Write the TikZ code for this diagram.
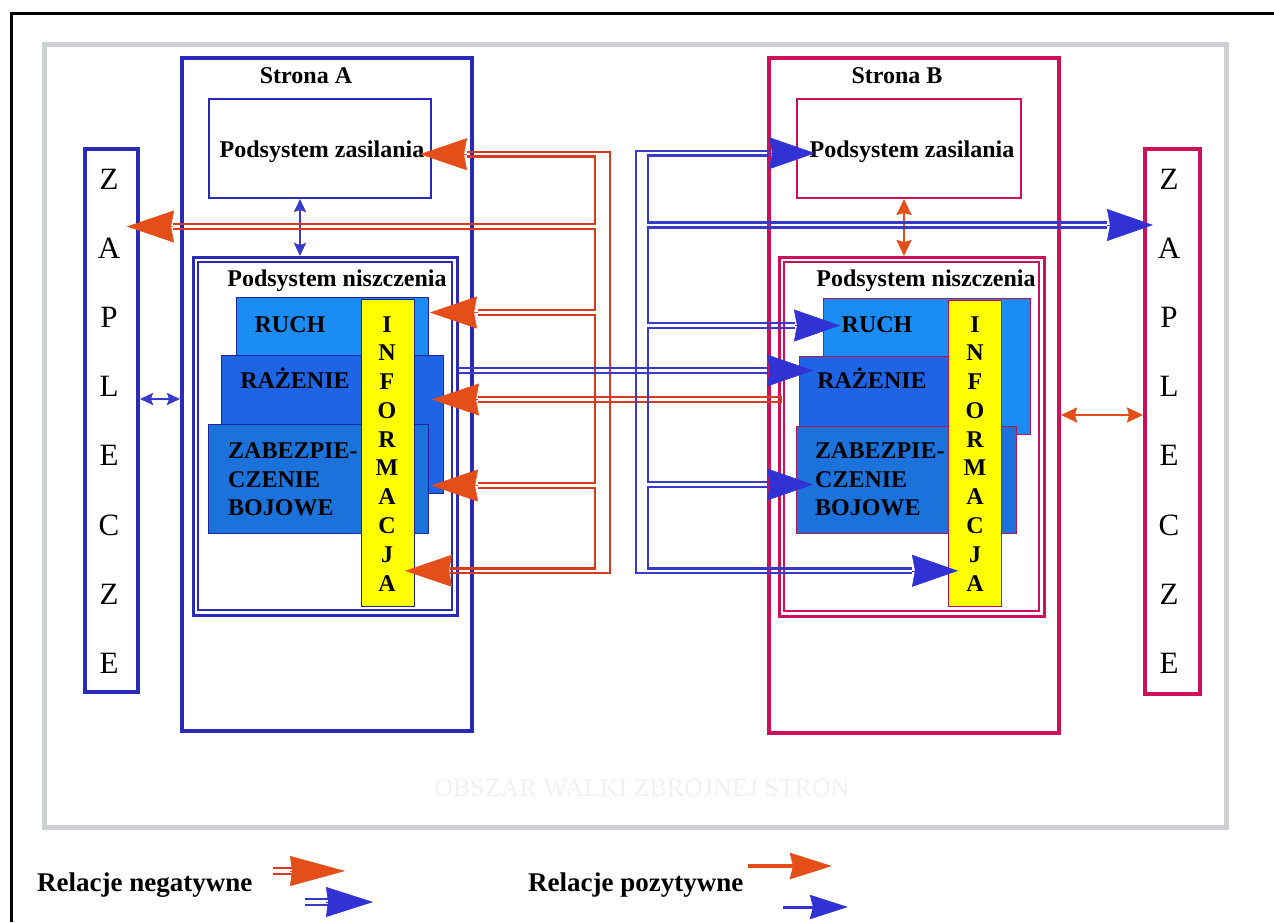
\documentclass[tikz,border=0pt]{standalone}
\usepackage{fontspec}
\setmainfont{Liberation Serif}
\usetikzlibrary{arrows.meta}
\definecolor{bA}{RGB}{42,42,185}
\definecolor{bB}{RGB}{205,16,88}
\definecolor{bAd}{RGB}{30,36,160}
\definecolor{bBd}{RGB}{180,20,80}
\definecolor{rl}{RGB}{214,58,32}
\definecolor{rh}{RGB}{228,78,24}
\definecolor{bl}{RGB}{58,58,200}
\definecolor{bh}{RGB}{50,50,212}
\definecolor{ruch}{RGB}{28,140,245}
\definecolor{raz}{RGB}{30,100,228}
\definecolor{zab}{RGB}{26,114,218}
\definecolor{yel}{RGB}{255,255,0}
\definecolor{gframe}{RGB}{206,208,212}
\definecolor{ghost}{RGB}{241,241,241}
\tikzset{
 bigbox/.style={inner sep=0pt, anchor=north west, line width=4pt},
 midbox/.style={inner sep=0pt, anchor=north west, line width=2pt},
 thinbox/.style={inner sep=0pt, anchor=north west, line width=1.5pt},
 cbox/.style={inner sep=0pt, anchor=north west, line width=1.2pt},
 lbl/.style={inner sep=0pt, anchor=base, font=\fontsize{24}{28}\selectfont\bfseries},
 zapl/.style={inner sep=0pt, anchor=base, font=\fontsize{31}{34}\selectfont},
 infl/.style={inner sep=0pt, anchor=base, font=\fontsize{24}{28}\selectfont\bfseries},
 legl/.style={inner sep=0pt, anchor=base west, font=\fontsize{27}{30}\selectfont\bfseries},
 rline/.style={draw=rl, line width=2.2pt},
 bline/.style={draw=bl, line width=2.2pt},
 rhead/.style={draw=rh, line width=0.5pt, -{Stealth[length=47pt,width=32pt,inset=3pt]}},
 bhead/.style={draw=bh, line width=0.5pt, -{Stealth[length=46pt,width=32pt,inset=3pt]}},
 posb/.style={draw=bl, line width=2pt, {Stealth[length=13pt,width=12pt,inset=2pt]}-{Stealth[length=13pt,width=12pt,inset=2pt]}},
 posr/.style={draw=rh, line width=2pt, {Stealth[length=16pt,width=15pt,inset=2pt]}-{Stealth[length=16pt,width=15pt,inset=2pt]}},
}
\begin{document}
\begin{tikzpicture}[x=1pt,y=-1pt]
\useasboundingbox (0,0) rectangle (1274,922);
% frames
\draw[line width=3pt] (11,922) -- (11,13) -- (1274,13);
\draw[gframe, line width=5pt] (44,44) rectangle (1226,827);
\node[inner sep=0pt, anchor=base, text=ghost, font=\fontsize{26}{30}\selectfont] (ghost) at (642,796) {OBSZAR WALKI ZBROJNEJ STRON};

% ZAPLECZE boxes
\node[bigbox, draw=bA, minimum width=53pt, minimum height=543pt] (zapA) at (83,147) {};
\node[bigbox, draw=bB, minimum width=55pt, minimum height=545pt] (zapB) at (1143,147) {};
\foreach \l [count=\i] in {Z,A,P,L,E,C,Z,E} {
  \node[zapl] (zA\i) at (109,{189+69.2*(\i-1)}) {\l};
  \node[zapl] (zB\i) at (1169,{189+69.2*(\i-1)}) {\l};
}

% Strona boxes
\node[bigbox, draw=bA, minimum width=290pt, minimum height=673pt] (strA) at (180,56) {};
\node[bigbox, draw=bB, minimum width=290pt, minimum height=675pt] (strB) at (767,56) {};
\node[lbl] (tA) at (306,83) {Strona A};
\node[lbl] (tB) at (897,83) {Strona B};

% Podsystem zasilania
\node[midbox, draw=bA, minimum width=222pt, minimum height=99pt] (zasA) at (208,98) {};
\node[midbox, draw=bB, minimum width=224pt, minimum height=99pt] (zasB) at (796,98) {};
\node[lbl] (tzA) at (322,157) {Podsystem zasilania};
\node[lbl] (tzB) at (912,157) {Podsystem zasilania};

% Podsystem niszczenia
\node[midbox, draw=bA, line width=2.6pt, minimum width=264pt, minimum height=358pt] (nisA) at (192,256) {};
\node[thinbox, draw=bA, minimum width=254pt, minimum height=348pt] (nisAi) at (197,261) {};
\node[midbox, draw=bB, line width=2.6pt, minimum width=265pt, minimum height=359pt] (nisB) at (778,256) {};
\node[thinbox, draw=bB, minimum width=255pt, minimum height=349pt] (nisBi) at (783,261) {};
\node[lbl] (tnA) at (337,286) {Podsystem niszczenia};
\node[lbl] (tnB) at (926,286) {Podsystem niszczenia};

% Strona A inner blocks
\node[cbox, fill=ruch, draw=bAd, minimum width=192pt, minimum height=58pt] (ruchA) at (236,297) {};
\node[cbox, fill=raz, draw=bAd, minimum width=222pt, minimum height=138pt] (razA) at (221,355) {};
\node[cbox, fill=zab, draw=bAd, minimum width=220pt, minimum height=109pt] (zabA) at (208,424) {};
\node[cbox, fill=yel, draw=bAd, line width=0.8pt, minimum width=53pt, minimum height=307pt] (infA) at (361,299) {};
\node[lbl] (truchA) at (290,332) {RUCH};
\node[lbl] (trazA) at (295,388) {RAŻENIE};
\node[lbl, anchor=base west] (tzab1A) at (228,458) {ZABEZPIE-};
\node[lbl, anchor=base west] (tzab2A) at (228,487) {CZENIE};
\node[lbl, anchor=base west] (tzab3A) at (228,515) {BOJOWE};

% Strona B inner blocks
\node[cbox, fill=ruch, draw=bBd, minimum width=207pt, minimum height=136pt] (ruchB) at (823,298) {};
\node[cbox, fill=raz, draw=bBd, minimum width=181pt, minimum height=71pt] (razB) at (799,356) {};
\node[cbox, fill=zab, draw=bBd, minimum width=220pt, minimum height=107pt] (zabB) at (796,426) {};
\node[cbox, fill=yel, draw=bBd, line width=0.8pt, minimum width=53pt, minimum height=306pt] (infB) at (948,300) {};
\node[lbl] (truchB) at (877,332) {RUCH};
\node[lbl] (trazB) at (872,388) {RAŻENIE};
\node[lbl, anchor=base west] (tzab1B) at (815,458) {ZABEZPIE-};
\node[lbl, anchor=base west] (tzab2B) at (815,487) {CZENIE};
\node[lbl, anchor=base west] (tzab3B) at (815,515) {BOJOWE};

% INFORMACJA letters
\foreach \l/\yy [count=\i] in {I/332,N/360,F/389,O/418,R/447,M/475,A/504,C/533,J/562,A/591} {
  \node[infl] (iA\i) at (387,\yy) {\l};
  \node[infl] (iB\i) at (975,\yy) {\l};
}

% positive (single) relations
\coordinate (vx1) at (300,0);
\coordinate (vx2) at (904,0);
\coordinate (hy1) at (0,399);
\coordinate (hy2) at (0,415);
\draw[posb] (zasA.south -| vx1) -- (nisA.north -| vx1);
\draw[posr] (zasB.south -| vx2) -- (nisB.north -| vx2);
\draw[posb] (zapA.east |- hy1) -- (strA.west |- hy1);
\draw[posr] (strB.east |- hy2) -- (zapB.west |- hy2);

% negative relations B -> A (red, double lines)
\draw[rline] (467,152) -- (610,152) -- (610,573) -- (450,573);
\draw[rline] (467,156.5) -- (595,156.5) -- (595,224) -- (173,224);
\draw[rline] (173,229) -- (595,229) -- (595,310) -- (478,310);
\draw[rline] (478,315) -- (595,315) -- (595,483) -- (478,483);
\draw[rline] (478,488) -- (595,488) -- (595,568.5) -- (450,568.5);
\draw[rline] (478,397) -- (781,397) -- (781,402) -- (478,402);
\coordinate (ra1) at (420,154.2);  \coordinate (rb1) at (467,154.2);
\coordinate (ra2) at (127,226.5);  \coordinate (rb2) at (173,226.5);
\coordinate (ra3) at (430,312.5);  \coordinate (rb3) at (478,312.5);
\coordinate (ra4) at (432,399.5);  \coordinate (rb4) at (478,399.5);
\coordinate (ra5) at (431,485.5);  \coordinate (rb5) at (478,485.5);
\coordinate (ra6) at (405,570.8);  \coordinate (rb6) at (450,570.8);
\foreach \i in {1,...,6} { \draw[rhead] (rb\i) -- (ra\i); }

% negative relations A -> B (blue, double lines)
\draw[bline] (770,151) -- (636,151) -- (636,573) -- (912,573);
\draw[bline] (770,155.5) -- (648,155.5) -- (648,222.5) -- (1107,222.5);
\draw[bline] (1107,227.5) -- (648,227.5) -- (648,323) -- (795,323);
\draw[bline] (795,328) -- (648,328) -- (648,482) -- (768,482);
\draw[bline] (768,487) -- (648,487) -- (648,568.5) -- (912,568.5);
\draw[bline] (nisA.east |- 0,368) -- (768,368);
\draw[bline] (nisA.east |- 0,373) -- (768,373);
\coordinate (bb1) at (770,153.2);  \coordinate (bt1) at (815,153.2);
\coordinate (bb2) at (1107,225);   \coordinate (bt2) at (1153,225);
\coordinate (bb3) at (795,325.5);  \coordinate (bt3) at (840,325.5);
\coordinate (bb4) at (768,370.5);  \coordinate (bt4) at (813,370.5);
\coordinate (bb5) at (768,484.5);  \coordinate (bt5) at (813,484.5);
\coordinate (bb6) at (912,570.8);  \coordinate (bt6) at (958,570.8);
\foreach \i in {1,...,6} { \draw[bhead] (bb\i) -- (bt\i); }

% legend
\node[legl] (lneg) at (37,891) {Relacje negatywne};
\node[legl] (lpos) at (528,891) {Relacje pozytywne};
\draw[draw=rl, line width=2.4pt] (273,868) -- (294,868);
\draw[draw=rl, line width=2.4pt] (273,874) -- (294,874);
\coordinate (lr1) at (290,871); \coordinate (lr2) at (345,871);
\draw[draw=rh, line width=0.5pt, -{Stealth[length=55pt,width=30pt,inset=2pt]}] (lr1) -- (lr2);
\draw[draw=bl, line width=2.4pt] (305,899) -- (330,899);
\draw[draw=bl, line width=2.4pt] (305,905) -- (330,905);
\coordinate (lb1) at (326,902); \coordinate (lb2) at (373,902);
\draw[draw=bh, line width=0.5pt, -{Stealth[length=47pt,width=30pt,inset=2pt]}] (lb1) -- (lb2);
\coordinate (pr1) at (748,866); \coordinate (pr2) at (832,866);
\draw[draw=rh, line width=3.5pt, -{Stealth[length=42pt,width=26pt,inset=3pt]}] (pr1) -- (pr2);
\coordinate (pb1) at (783,907); \coordinate (pb2) at (848,907);
\draw[draw=bh, line width=3pt, -{Stealth[length=38pt,width=24pt,inset=3pt]}] (pb1) -- (pb2);
\end{tikzpicture}
\end{document}
